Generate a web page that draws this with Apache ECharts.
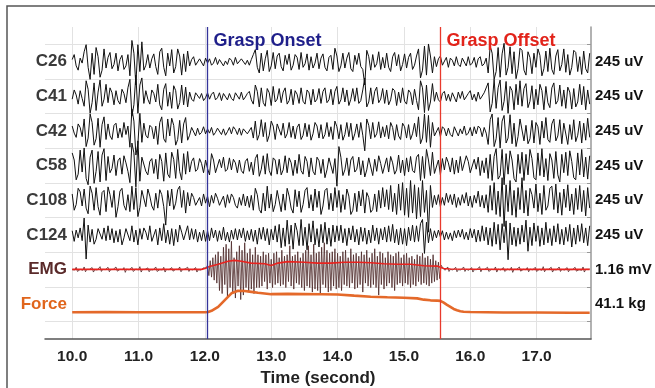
<!DOCTYPE html>
<html><head><meta charset="utf-8">
<script src="https://cdn.jsdelivr.net/npm/echarts@6/dist/echarts.min.js"></script>
<style>html,body{margin:0;padding:0;background:#fff}#c{width:655px;height:388px}</style>
</head><body><div id="c"></div>
<script>
// ---- sampling ----
const T0 = 10.0;
const EEG_DT = 0.03;
const EMG_DT = 0.02;

// ---- rows (top to bottom) ----
const rowNames = ['C26','C41','C42','C58','C108','C124','EMG','Force'];
const rowScales = ['245 uV','245 uV','245 uV','245 uV','245 uV','245 uV','1.16 mV','41.1 kg'];
const EEG_SCALE_UV = 245, EMG_SCALE_MV = 1.16, FORCE_SCALE_KG = 41.1;

// ---- EEG channels (uV) ----
const c26 = [15,50,-30,-60,25,-10,
70,120,-40,-125,60,-90,100,35,-110,-60,90,-45,
30,65,-50,-20,60,-65,15,45,-55,-30,50,
-100,150,60,-165,120,-70,140,
-60,-25,50,-45,20,55,-35,
-90,70,95,-40,-100,60,-30,85,-80,-35,90,40,-95,55,-70,75,
-30,15,35,-25,-35,20,10,-30,25,-10,
20,-25,-10,30,-20,15,25,-30,5,-20,25,10,-25,30,-15,-25,20,30,-20,10,-25,15,
50,85,-40,-80,60,-65,20,80,-70,-30,65,-50,40,
60,-35,-65,45,-20,55,-60,-25,50,30,-55,65,-40,-15,55,-60,35,-45,-10,60,-50,25,55,-40,-65,30,45,
-55,95,40,-70,-30,60,-45,25,65,-50,-70,45,-20,60,-35,-55,-165,80,35,-60,50,-40,-15,70,-55,30,-45,
60,-40,-70,35,65,-30,50,-65,-20,55,-45,30,60,-55,-25,40,
90,-115,-60,110,-95,125,40,-80,35,
-35,20,40,-25,-15,30,-40,25,10,-30,35,-20,-35,25,15,-30,35,-25,-10,30,-40,20,35,-30,-15,25,
-80,110,60,-125,-70,100,-110,55,130,-95,-40,105,-85,70,-120,-50,95,
80,-60,-95,70,30,-85,60,-40,90,45,-100,-50,75,-70,95,-55,-90,40,85,-65,-20,90,-75,50,-95,-40,80,65,-70,35,-90,75,-50,-80,60];
const c41 = [-20,45,10,-55,40,-15,
-70,110,50,-120,-45,95,-100,30,115,-70,-20,85,
-45,60,25,-60,40,-30,-55,50,20,-45,60,
120,-140,-60,150,-120,80,130,
-50,40,-20,-55,45,20,-40,
85,-60,-95,50,90,-70,30,-85,75,40,-90,-45,80,-60,65,-75,
30,-20,-35,25,30,-15,20,-30,-10,25,
-20,15,30,-25,-10,25,-30,20,10,-25,20,-15,-30,25,15,-20,30,-25,-5,20,35,-25,
-55,80,35,-75,60,-45,-70,55,25,-65,70,-40,-20,
55,-45,30,60,-55,-30,50,-60,40,15,-50,60,-35,-55,45,25,-60,50,-40,-20,55,-50,35,60,-45,-25,50,
-60,35,70,-55,-25,60,-40,45,-65,-20,55,-35,60,-50,-30,45,130,-75,-40,60,-55,35,65,-45,-20,55,-50,
45,-60,-25,55,40,-65,30,-45,60,-35,-55,45,25,-60,50,-30,
-95,110,60,-115,80,-100,-40,90,-35,
30,-25,-40,20,35,-30,15,-35,25,20,-40,30,-15,35,-25,-30,20,40,-25,15,-35,30,-20,-30,25,35,
95,-110,-50,120,-85,60,115,-100,-35,105,-120,70,40,-95,85,-60,110,
-70,55,90,-80,-35,75,-90,50,-60,85,40,-95,70,-45,-80,60,95,-55,-30,80,-70,45,-85,65,30,-90,55,-75,-40,85,-60,70,-95,45,-55];
const c42 = [35,-15,-45,50,25,-40,
85,-110,-50,120,60,-100,-55,90,-115,45,100,-60,
50,-35,-60,40,55,-50,20,-45,60,-25,35,
-115,155,70,-170,-90,125,-80,
55,-30,-50,40,25,-55,35,
-95,60,100,-55,-80,85,-35,90,40,-100,-60,75,-85,50,95,-65,
-30,25,15,-35,20,-25,-10,30,-20,15,
-15,25,-30,-10,20,30,-25,15,-30,-5,25,-20,30,10,-25,20,-30,15,25,-20,-15,25,
-50,70,-65,-25,80,-40,60,-75,-30,70,35,-60,50,
45,-30,55,-50,-20,60,-45,35,-55,25,50,-60,-30,55,-40,45,-65,-20,60,35,-50,45,-55,-25,60,-40,30,
-60,70,30,-55,45,-65,-25,60,-40,55,-65,-20,50,-45,60,-30,-140,85,40,-55,60,-45,-20,65,-50,30,-40,
40,-55,60,25,-65,45,-35,-60,55,30,-50,45,-60,-20,55,-40,
100,-90,-50,120,-80,110,-115,60,-35,
-30,25,-40,30,15,-35,20,-25,-40,30,25,-35,15,-20,35,-30,-15,25,-35,30,-20,35,20,-40,25,-15,
-95,80,120,-110,-55,95,-120,70,110,-85,-50,115,-90,55,-110,-40,85,
95,-70,40,-90,-55,75,-85,60,30,-95,70,-50,95,-60,-80,50,85,-70,-35,80,-90,55,65,-95,45,-60,80,-75,-30,70,-85,55,-65,90,-45];
const c58 = [90,40,-100,-60,110,-45,
125,-90,-135,60,110,-125,-40,100,-115,75,120,-105,
65,-50,-20,75,-70,35,55,-60,70,20,-40,
-120,160,90,-150,175,-110,60,
70,-40,-65,30,50,-55,45,
-95,80,30,-110,90,-60,-85,95,45,-90,115,-40,-100,85,-60,100,
-45,30,55,-40,-25,50,15,-50,40,-20,
-65,85,40,-50,-55,45,-15,60,-40,-25,55,-30,45,20,-50,40,-35,-55,30,50,-40,25,
-65,50,80,-75,-25,70,-60,85,-35,-70,55,40,-60,
45,-65,-30,70,-50,55,20,-70,40,-55,80,-35,-60,65,30,-80,55,-40,-65,60,35,-55,45,-85,-30,55,65,
-55,50,-145,135,60,-70,-30,55,-70,40,65,-45,-25,60,-65,35,-80,-30,55,65,-70,45,-40,70,15,-55,-50,
55,-45,65,20,-60,-30,75,-50,40,-70,55,-45,65,-35,-50,60,
80,-105,65,-90,115,40,-70,95,-55,
-55,40,-65,50,-30,60,20,-45,55,-60,40,-50,65,-35,-45,70,30,-50,-55,45,-25,60,-70,35,-50,55,
-90,80,-105,65,120,-95,-70,115,-135,85,-60,105,40,-90,-115,80,-55,
95,-105,80,-65,115,50,-85,-100,90,-70,120,-80,50,-105,85,40,-90,100,-65,-115,80,-50,95,-70,105,30,-85,-100,90,-65,115,-80,60,-95,70];
const c108 = [45,-70,-30,85,60,-40,
80,-55,-95,100,50,-70,90,-45,-105,55,70,-80,
95,40,-50,70,-120,-45,65,85,-35,-70,40,
-80,100,-65,90,-115,-50,70,
65,-45,80,30,-40,-70,50,
-55,75,40,-45,-175,70,-40,80,-65,-20,75,100,-50,70,-90,55,
-40,50,20,-35,-45,20,-40,45,-20,30,
-45,35,-20,50,15,-35,-40,30,-50,40,-20,45,20,-35,-55,20,-35,45,-40,30,-50,35,
-70,85,40,-65,-90,50,-75,100,-55,45,-80,-30,70,
65,-80,45,-70,85,30,-55,-90,75,-45,65,-85,-30,70,90,-55,40,-75,80,-50,65,-100,-40,70,85,-65,50,
-75,90,-50,70,-85,40,-65,80,30,-100,-70,50,-80,65,-40,75,-90,55,20,-85,-65,45,-80,70,-55,90,-45,
75,-65,105,-80,50,-100,115,-70,125,-105,85,-120,140,-90,110,-130,
90,-115,140,-85,70,-225,105,-50,35,
-30,40,-45,20,-35,50,-15,40,-30,45,-50,20,-35,40,-20,55,-40,30,-50,35,-20,65,-45,35,-55,40,
-85,105,-70,125,-100,65,-115,160,-185,110,-80,140,-105,70,-120,90,-65,
160,-90,70,-110,85,40,-55,115,-80,50,-100,105,-70,-40,85,100,-65,115,-90,55,-105,80,-50,110,-75,45,-100,85,-65,105,-80,70,-110,90,-55];
const c124 = [30,-45,35,-20,50,-40,
120,-170,70,-50,40,-65,-30,45,55,-30,50,-40,
65,-35,45,-55,30,-50,40,-70,-20,45,55,
-40,65,-50,35,-70,45,-30,
50,20,-35,65,-45,-55,40,
-70,50,-40,80,-55,35,-65,45,-75,40,-50,70,20,-35,-45,65,
-35,45,-30,40,-50,20,-40,35,-45,30,
-40,50,-20,35,-45,30,-35,55,-40,20,-50,35,-30,45,-35,40,-20,50,-45,30,-35,40,
-45,35,-65,50,-30,55,-40,45,-70,40,-35,65,-50,
75,-90,50,-80,105,-65,70,-100,85,30,-75,110,-75,55,-105,80,-50,100,-70,45,-85,75,-55,90,-65,50,-80,
70,-50,65,-40,70,-55,45,-75,50,-35,65,-50,40,-70,55,-45,50,-65,35,-55,70,-40,50,-65,45,-35,55,
-50,65,-45,75,-55,40,-70,50,-65,45,-75,55,-40,70,-50,65,
-45,80,110,-130,90,-55,45,-40,30,
-20,35,-15,30,-35,20,-30,15,-40,30,-20,35,-15,40,-30,20,-35,45,-20,40,-50,35,-45,65,-40,55,
-70,50,-80,90,-65,75,-105,80,-55,100,-175,85,-70,55,-80,50,-65,
70,-50,105,-115,55,-75,85,-45,65,-80,50,-70,90,-55,45,-75,65,-50,80,-65,40,-70,55,-45,75,-85,50,-65,70,-45,80,-55,50,-75,65];
const eegChannels = [c26, c41, c42, c58, c108, c124];

// ---- EMG (mV) ----
const emg = [
0,.02,-.01,.08,-.06,0,.01,0,-.02,.09,
-.07,.01,0,.01,-.01,.07,-.08,0,.02,-.01,
0,.1,-.06,.01,-.01,0,.02,.08,-.07,0,
0,.01,-.02,.09,-.05,.01,.01,-.01,0,.07,
-.09,.02,0,-.01,.01,.08,-.06,0,.02,0,
-.01,.1,-.08,.01,0,.01,-.02,.06,-.07,0,
.01,-.01,.02,.09,-.06,0,0,.01,-.01,.08,
-.08,.01,.02,0,-.01,.07,-.05,0,.01,-.02,
.01,.09,-.07,0,0,.02,-.01,.08,-.06,.01,
0,-.01,.02,.07,-.08,0,.01,-.01,.02,.06,
.03,.05,
.15,-.2,.3,-.25,.4,-.35,.5,-.45,
.6,-.7,.45,-.8,.75,-.5,.85,-.9,.7,-.6,.95,-.75,.4,-.95,.6,-.55,.8,-1.0,.65,-.85,.9,-.6,.55,-.75,.7,-.65,.5,-.8,.75,-.6,
.5,-.6,.45,-.55,.6,-.4,.5,-.65,.55,-.45,.35,-.6,.55,-.5,.6,-.45,.4,-.55,.65,-.5,.45,-.6,.5,-.4,.8,-.55,.45,-.65,.5,-.45,.6,-.5,.4,-.6,.55,
-.7,.65,-.55,.8,-.6,.5,-.75,.85,-.65,.55,-.7,.6,-.8,.75,-.5,.9,-.6,.65,-.75,.55,-.7,.6,-.55,.7,-.65,
.55,-.6,.45,-.7,.6,-.5,.65,-.55,.4,-.6,.7,-.45,.5,-.65,.55,-.6,.45,-.5,.6,-.75,.5,-.45,.65,-.55,.4,-.6,.55,-.5,.7,-.6,.45,-.85,.6,-.5,.55,-.65,.4,-.55,.6,-.45,.5,-.6,.45,-.7,.55,-.5,.6,-.45,.4,-.55,
.5,-.45,.55,-.5,.4,-.6,.45,-.5,.35,-.55,.5,-.4,.45,-.5,.55,-.45,.4,-.5,.45,-.55,.35,-.45,.5,-.4,.3,-.35,.25,-.3,.15,
.08,.03,-.02,.01,.09,-.06,.01,0,-.01,.02,
.08,-.07,0,.01,-.01,0,.09,-.06,.01,0,
-.02,.01,.07,-.08,0,.01,0,-.01,.1,-.07,
.01,0,.01,-.02,.08,-.06,0,.01,-.01,0,
.09,-.08,.02,0,-.01,.01,.07,-.06,0,.02,
0,-.01,.08,-.09,.01,0,.01,-.02,.09,-.05,
0,.01,-.01,0,.07,-.07,.02,0,-.01,.01,
.08,-.06,0,.01,0,-.02,.1,-.07,.01,0,
.01,-.01,.08,-.08,0,.02,-.01,0,.09,-.06,
.01,0,-.01,.02,.07,-.07,0,.01,0,-.01,
.08,-.05,.01,0,.01,-.02,.09,-.08,.01,0,
.01,.02];
// EMG envelope (mV)
const emgEnvT = [10.0,11.0,11.95,12.0,12.05,12.1,12.2,12.35,12.45,12.55,12.7,12.9,13.0,13.1,13.25,13.5,13.7,13.9,14.1,14.3,14.5,14.7,14.9,15.1,15.3,15.5,15.6,15.7,16.5,17.8];
const emgEnvV = [0.01,0.01,0.01,0.04,0.09,0.12,0.18,0.28,0.31,0.28,0.22,0.2,0.14,0.22,0.27,0.25,0.22,0.22,0.25,0.25,0.23,0.2,0.18,0.18,0.13,0.12,0.04,0.02,0.01,0.01];

// ---- Force (kg above rest) ----
const forceT = [10.0,10.5,11.0,11.5,12.0,12.05,12.1,12.2,12.3,12.4,12.5,12.6,12.7,12.8,13.0,13.25,13.5,13.75,14.0,14.25,14.5,14.75,15.0,15.2,15.3,15.4,15.5,15.55,15.6,15.65,15.7,15.75,15.8,15.85,15.9,16.0,16.5,17.0,17.5,17.8];
const forceKg = [0,0.2,0,0.1,0,0.3,1.8,6.5,14.5,22.5,25.5,25.2,24.2,23.2,21.5,21.8,21.6,21.4,21.2,19.8,18.5,17.8,17.2,16.5,15,14.2,13.8,13.6,11.5,8.9,6.5,4,2.4,1.2,0.6,0.3,-0.2,-0.3,-0.5,-0.6];

// ---- axes / events ----
const xTickValues = [10,11,12,13,14,15,16,17];
const eventTimes = [12.04, 15.55];
const eventNames = ['Grasp Onset', 'Grasp Offset'];

// ---- layout constants ----
const X_MIN = 9.59, X_MAX = 17.82, Y_MIN = 0, Y_MAX = 9;
const rowCenters = rowNames.map((n, i) => 8 - i);
const gridValues = rowCenters.map(c => c + 0.5).concat([0.5]);
const FORCE_REST = -0.23;
const EVENT_LABEL_Y = 8.6;
const eventColors = ['#1f1f8a', '#e2231a'];
const eventLineColors = ['#34349a', '#e8392c'];
const FONT = 'Liberation Sans, Arial, sans-serif';

const series = [];
eegChannels.forEach((arr, k) => {
  const c = rowCenters[k];
  series.push({
    type: 'line', name: rowNames[k], showSymbol: false, symbol: 'none', silent: true,
    animation: false, emphasis: {disabled: true},
    lineStyle: {color: '#111', width: 1},
    data: arr.map((v, i) => [T0 + i * EEG_DT, c + v / EEG_SCALE_UV])
  });
});
series.push({
  type: 'line', name: 'EMG', showSymbol: false, symbol: 'none', silent: true, animation: false,
  lineStyle: {color: '#4a2626', width: 0.8},
  data: emg.map((v, i) => [T0 + i * EMG_DT, rowCenters[6] + v / EMG_SCALE_MV])
});
series.push({
  type: 'line', name: 'EMG env', showSymbol: false, symbol: 'none', silent: true, animation: false,
  lineStyle: {color: '#e8231f', width: 1.6},
  data: emgEnvT.map((t, i) => [t, rowCenters[6] + emgEnvV[i] / EMG_SCALE_MV])
});
series.push({
  type: 'line', name: 'Force', showSymbol: false, symbol: 'none', silent: true, animation: false,
  lineStyle: {color: '#e4692a', width: 2.6},
  data: forceT.map((t, i) => [t, rowCenters[7] + FORCE_REST + forceKg[i] / FORCE_SCALE_KG]),
  markLine: {
    silent: true, animation: false, symbol: ['none', 'none'], label: {show: false},
    data: eventTimes.map((t, i) => ({xAxis: t, lineStyle: {color: eventLineColors[i], width: 1.3, type: 'solid'}}))
  },
  markPoint: {
    silent: true, animation: false, symbol: 'circle', symbolSize: 0,
    data: eventTimes.map((t, i) => ({
      coord: [t, EVENT_LABEL_Y],
      label: {show: true, position: 'right', distance: 6, formatter: eventNames[i],
        color: eventColors[i], fontSize: 18, fontWeight: 'bold', fontFamily: FONT}
    }))
  }
});

const richRow = {
  k: {color: '#3a3a3a', fontSize: 17, fontWeight: 'bold', fontFamily: FONT},
  e: {color: '#5a2a2a', fontSize: 17, fontWeight: 'bold', fontFamily: FONT},
  f: {color: '#e0651c', fontSize: 17, fontWeight: 'bold', fontFamily: FONT}
};

const chart = echarts.init(document.getElementById('c'), null, {renderer: 'canvas'});
chart.setOption({
  animation: false,
  backgroundColor: '#fff',
  textStyle: {fontFamily: FONT},
  graphic: [{type: 'rect', shape: {x: 7, y: 6, width: 700, height: 420},
    style: {fill: 'none', stroke: '#555', lineWidth: 1.5}, silent: true}],
  grid: {left: 45, right: 64, top: 27, bottom: 49, outerBoundsMode: 'none'},
  xAxis: {
    type: 'value', min: X_MIN, max: X_MAX,
    axisLine: {show: true, lineStyle: {color: '#555', width: 1.5}},
    axisTick: {show: false, customValues: xTickValues},
    axisLabel: {customValues: xTickValues, formatter: v => v.toFixed(1), margin: 10,
      color: '#222', fontSize: 15.5, fontWeight: 'bold', fontFamily: FONT},
    splitLine: {show: true, lineStyle: {color: '#e2e2e2', width: 1}},
    name: 'Time (second)', nameLocation: 'middle', nameGap: 30,
    nameTextStyle: {color: '#222', fontSize: 17, fontWeight: 'bold', fontFamily: FONT}
  },
  yAxis: [
    {
      type: 'value', min: Y_MIN, max: Y_MAX, position: 'left',
      axisLine: {show: false}, axisTick: {show: false, customValues: gridValues},
      axisLabel: {show: false},
      splitLine: {show: true, lineStyle: {color: '#e2e2e2', width: 1}}
    },
    {
      type: 'value', min: Y_MIN, max: Y_MAX, position: 'left', offset: -22,
      axisLine: {show: false}, axisTick: {show: false}, splitLine: {show: false},
      axisLabel: {customValues: rowCenters, margin: 0,
        formatter: v => {
          const i = rowCenters.indexOf(Math.round(v));
          if (i < 0) return '';
          const key = rowNames[i] === 'EMG' ? 'e' : (rowNames[i] === 'Force' ? 'f' : 'k');
          return '{' + key + '|' + rowNames[i] + '}';
        },
        rich: richRow}
    },
    {
      type: 'value', min: Y_MIN, max: Y_MAX, position: 'right',
      axisLine: {show: true, lineStyle: {color: '#999', width: 1.5}},
      axisTick: {show: true, inside: true, length: 4, customValues: gridValues, lineStyle: {color: '#999'}},
      splitLine: {show: false},
      axisLabel: {customValues: rowCenters, margin: 4, color: '#111', fontSize: 15, fontWeight: 'bold', fontFamily: FONT,
        formatter: v => { const i = rowCenters.indexOf(Math.round(v)); return i < 0 ? '' : rowScales[i]; }}
    }
  ],
  series: series
});
</script>
</body></html>
